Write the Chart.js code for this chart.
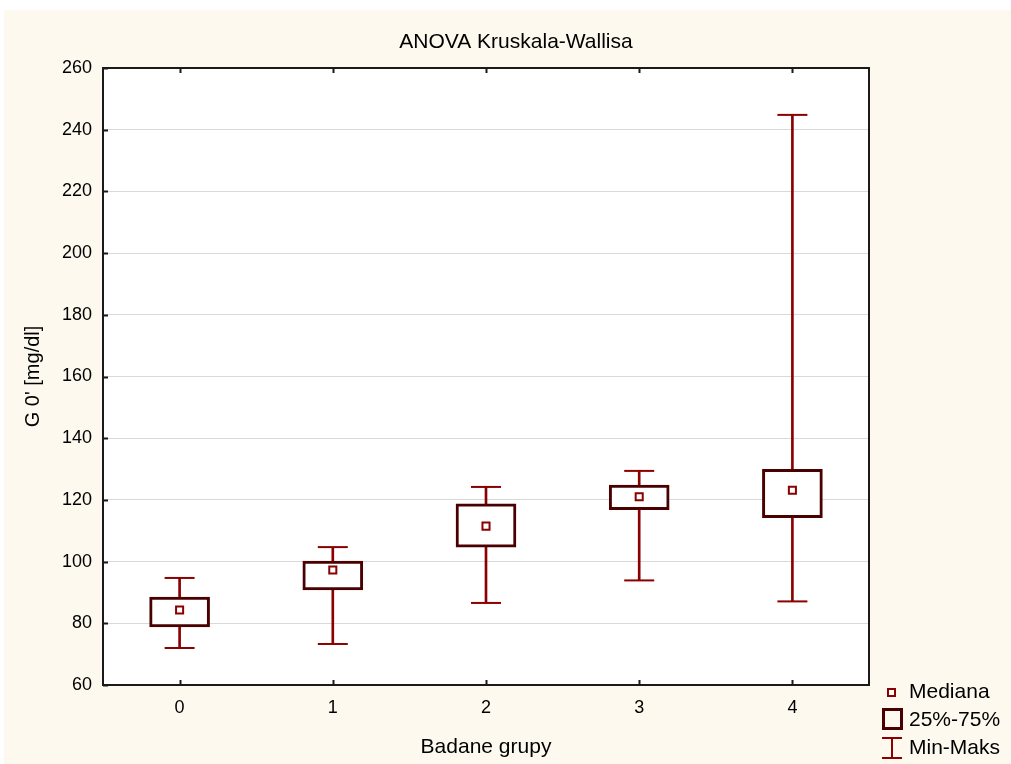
<!DOCTYPE html>
<html>
<head>
<meta charset="utf-8">
<script src="https://cdn.jsdelivr.net/npm/chart.js@4.4.1/dist/chart.umd.min.js"></script>
<style>
  html, body { margin: 0; padding: 0; background: #ffffff; }
  #wrap { width: 1011px; height: 764px; position: relative; }
</style>
</head>
<body>
<div id="wrap"><canvas id="boxChart" width="1011" height="764"></canvas></div>
<script>
// groups on the x axis
const groups = ['0', '1', '2', '3', '4'];
// box plot values (mg/dl)
const minVals = [72, 73.3, 86.6, 93.9, 87.1];
const q1Vals = [78.8, 90.8, 104.7, 116.8, 114.2];
const medianVals = [84.3, 97.3, 111.5, 121, 123.1];
const q3Vals = [88.5, 100.2, 118.7, 124.8, 129.9];
const maxVals = [94.7, 104.7, 124.2, 129.4, 244.8];
const yTicks = [60, 80, 100, 120, 140, 160, 180, 200, 220, 240, 260];

const whiskerColor = '#8b0000';
const boxColor = '#4a0000';
const fontFamily = '"Liberation Sans", Arial, sans-serif';

// background, title, frame and inward tick marks
const framePlugin = {
    id: 'frame',
    beforeDraw(chart) {
        const ctx = chart.ctx;
        const a = chart.chartArea;
        ctx.save();
        ctx.fillStyle = '#ffffff';
        ctx.fillRect(0, 0, chart.width, chart.height);
        ctx.fillStyle = '#fdf9ee';
        ctx.fillRect(4, 10, chart.width - 4, chart.height - 10);
        ctx.fillStyle = '#ffffff';
        ctx.fillRect(a.left, a.top, a.right - a.left, a.bottom - a.top);
        ctx.restore();
    },
    afterDraw(chart) {
        const ctx = chart.ctx;
        const a = chart.chartArea;
        const xs = chart.scales.x;
        const ys = chart.scales.y;
        ctx.save();
        ctx.strokeStyle = '#1a1a1a';
        ctx.lineWidth = 2;
        ctx.strokeRect(a.left, a.top, a.right - a.left, a.bottom - a.top);
        ctx.beginPath();
        groups.forEach((g, i) => {
            const x = Math.round(xs.getPixelForValue(i)) + 0.5;
            ctx.moveTo(x, a.bottom);
            ctx.lineTo(x, a.bottom - 5);
            ctx.moveTo(x, a.top);
            ctx.lineTo(x, a.top + 5);
        });
        yTicks.forEach(v => {
            const y = Math.round(ys.getPixelForValue(v)) + 0.5;
            ctx.moveTo(a.left, y);
            ctx.lineTo(a.left + 5, y);
        });
        ctx.stroke();

        ctx.font = '21px ' + fontFamily;
        ctx.fillStyle = '#000000';
        ctx.textAlign = 'center';
        ctx.textBaseline = 'middle';
        ctx.fillText('ANOVA Kruskala-Wallisa', 516, 42);
        ctx.restore();
    }
};

// legend with the three box plot symbols
const legendPlugin = {
    id: 'boxLegend',
    afterDraw(chart) {
        const ctx = chart.ctx;
        ctx.save();
        ctx.font = '21px ' + fontFamily;
        ctx.fillStyle = '#000000';
        ctx.textBaseline = 'middle';
        ctx.fillText('Mediana', 909, 692);
        ctx.fillText('25%-75%', 909, 720);
        ctx.fillText('Min-Maks', 909, 748);

        ctx.strokeStyle = whiskerColor;
        ctx.lineWidth = 2;
        ctx.fillStyle = '#ffffff';
        ctx.fillRect(888, 689, 7, 7);
        ctx.strokeRect(888, 689, 7, 7);

        ctx.strokeStyle = boxColor;
        ctx.lineWidth = 3;
        ctx.strokeRect(883.5, 709.5, 18, 19);

        ctx.strokeStyle = whiskerColor;
        ctx.lineWidth = 2;
        ctx.beginPath();
        ctx.moveTo(882, 738); ctx.lineTo(902, 738);
        ctx.moveTo(892, 738); ctx.lineTo(892, 758);
        ctx.moveTo(882, 758); ctx.lineTo(902, 758);
        ctx.stroke();
        ctx.restore();
    }
};

const pair = (a, b) => a.map((v, i) => [v, b[i]]);

const ctx = document.getElementById('boxChart').getContext('2d');
new Chart(ctx, {
    type: 'bar',
    data: {
        labels: groups,
        datasets: [{
            label: 'Min-Maks',
            data: pair(minVals, maxVals),
            backgroundColor: whiskerColor,
            barThickness: 2,
            grouped: false,
            order: 5
        }, {
            label: '25%-75%',
            data: pair(q1Vals, q3Vals),
            backgroundColor: '#ffffff',
            borderColor: boxColor,
            borderWidth: 3,
            borderSkipped: false,
            barThickness: 60,
            grouped: false,
            order: 4
        }, {
            type: 'line',
            label: 'Min',
            data: minVals,
            showLine: false,
            pointStyle: 'line',
            pointRadius: 15,
            borderColor: whiskerColor,
            borderWidth: 2,
            order: 3
        }, {
            type: 'line',
            label: 'Maks',
            data: maxVals,
            showLine: false,
            pointStyle: 'line',
            pointRadius: 15,
            borderColor: whiskerColor,
            borderWidth: 2,
            order: 2
        }, {
            type: 'line',
            label: 'Mediana',
            data: medianVals,
            showLine: false,
            pointStyle: 'rect',
            pointRadius: 5,
            borderColor: whiskerColor,
            backgroundColor: '#ffffff',
            borderWidth: 2,
            order: 1
        }]
    },
    options: {
        responsive: false,
        animation: false,
        layout: {
            padding: { left: 0, right: 142, top: 68, bottom: 0 }
        },
        plugins: {
            legend: { display: false },
            tooltip: { enabled: false },
            title: { display: false }
        },
        scales: {
            x: {
                grid: { display: false, drawTicks: false },
                border: { display: false },
                ticks: {
                    color: '#000000',
                    font: { family: fontFamily, size: 18 },
                    padding: 12
                },
                title: {
                    display: true,
                    text: 'Badane grupy',
                    color: '#000000',
                    font: { family: fontFamily, size: 21 },
                    padding: { top: 0, bottom: 4 }
                },
                afterFit(scale) { scale.height = 79; }
            },
            y: {
                min: 60,
                max: 260,
                afterBuildTicks(scale) {
                    scale.ticks = yTicks.map(v => ({ value: v }));
                },
                grid: { color: '#d9d9d9', lineWidth: 1, drawTicks: false },
                border: { display: false },
                ticks: {
                    color: '#000000',
                    font: { family: fontFamily, size: 18 },
                    padding: 11
                },
                title: {
                    display: true,
                    text: "G 0' [mg/dl]",
                    color: '#000000',
                    font: { family: fontFamily, size: 20 },
                    padding: { top: 21, bottom: 0 }
                },
                afterFit(scale) { scale.width = 103; }
            }
        }
    },
    plugins: [framePlugin, legendPlugin]
});
</script>
</body>
</html>
